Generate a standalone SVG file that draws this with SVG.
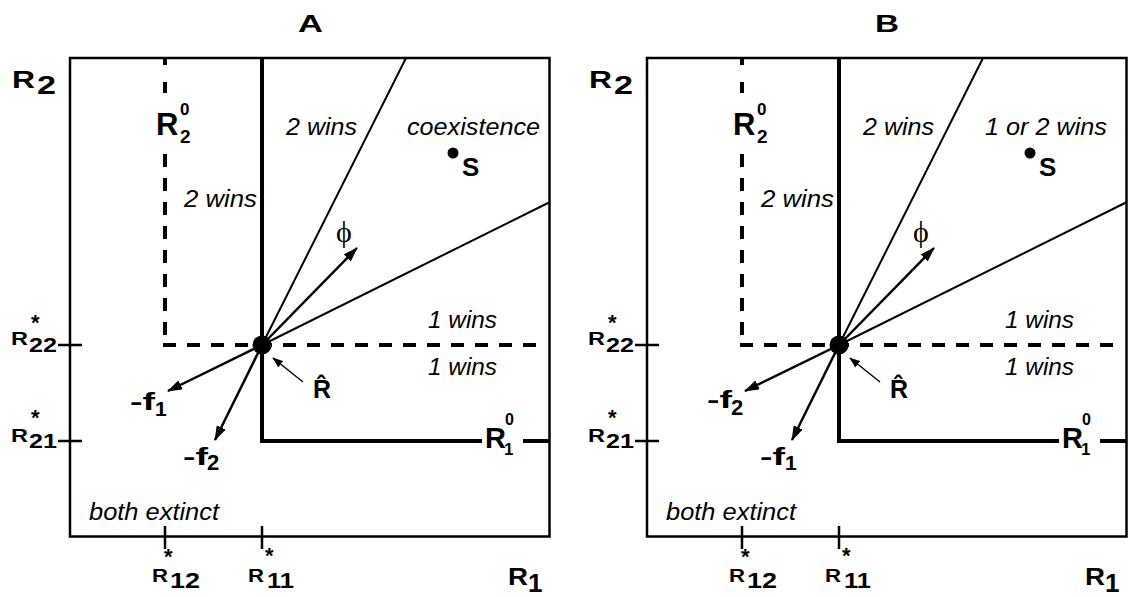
<svg xmlns="http://www.w3.org/2000/svg" width="1128" height="597" viewBox="0 0 1128 597">
<defs>
<marker id="ah" viewBox="0 0 15 10" refX="14" refY="5" markerWidth="15" markerHeight="10" markerUnits="userSpaceOnUse" orient="auto"><path d="M0,0 L15,5 L0,10 z" fill="#000"/></marker>
<marker id="ahs" viewBox="0 0 11 8" refX="10" refY="4" markerWidth="11" markerHeight="8" markerUnits="userSpaceOnUse" orient="auto"><path d="M0,0 L11,4 L0,8 z" fill="#000"/></marker>
<style>
.box{fill:none;stroke:#000;stroke-width:2.5}
.thick{fill:none;stroke:#000;stroke-width:4}
.dash{fill:none;stroke:#000;stroke-width:4;stroke-dasharray:13 11}
.thin{fill:none;stroke:#000;stroke-width:2}
.tick{fill:none;stroke:#000;stroke-width:2.5}
.arrow{fill:none;stroke:#000;stroke-width:2.5;marker-end:url(#ah)}
.arrows{fill:none;stroke:#000;stroke-width:1.5;marker-end:url(#ahs)}
.b{font-family:"Liberation Sans",Arial,sans-serif;font-weight:bold;fill:#000}
.i{font-family:"Liberation Sans",Arial,sans-serif;font-style:italic;font-size:24px;fill:#000}
.phi{font-family:"Liberation Serif","Times New Roman",serif;font-size:30px;fill:#000}
</style>
</defs>
<rect width="1128" height="597" fill="#fff"/>

<!-- Panel A -->
<g id="panelA">
  <g id="A-frame">
    <rect class="box" x="70" y="58" width="479.5" height="478.5"/>
    <path class="tick" d="M58 345H82M58 441H82M165 526V549M262 526V549"/>
  </g>
  <g id="A-connectors">
    <path class="thick" d="M165 58V65M165 82V93"/>
    <path class="dash" d="M165 154V345"/>
    <path class="dash" d="M163 345H546"/>
    <path class="thick" d="M262 58V441H482M523 441H550"/>
    <path class="thin" d="M262 345L406 58M262 345L550 202"/>
    <path class="arrow" d="M262 345L357 248"/>
    <path class="arrow" d="M262 345L168 391"/>
    <path class="arrow" d="M262 345L215 440"/>
    <path class="arrows" d="M303 382L273 358"/>
  </g>
  <g id="A-title"><text class="b" x="298" y="32" font-size="24" textLength="25" lengthAdjust="spacingAndGlyphs">A</text></g>
  <g id="A-R2axis"><text class="b" x="12" y="88" font-size="23" textLength="23" lengthAdjust="spacingAndGlyphs">R</text><text class="b" x="37" y="94" font-size="26" textLength="19" lengthAdjust="spacingAndGlyphs">2</text></g>
  <g id="A-R1axis"><text class="b" x="508" y="585" font-size="24" textLength="20" lengthAdjust="spacingAndGlyphs">R</text><text class="b" x="528" y="592" font-size="26">1</text></g>
  <g id="A-R20"><text class="b" x="156" y="135" font-size="31">R</text><text class="b" x="180" y="115" font-size="17">0</text><text class="b" x="180" y="143" font-size="19">2</text></g>
  <g id="A-R10"><text class="b" x="485" y="448" font-size="29">R</text><text class="b" x="505" y="425" font-size="16">0</text><text class="b" x="504" y="455" font-size="17">1</text></g>
  <g id="A-R22"><text class="b" x="11" y="345" font-size="18" textLength="17" lengthAdjust="spacingAndGlyphs">R</text><text class="b" x="29" y="352" font-size="21" textLength="28" lengthAdjust="spacingAndGlyphs">22</text><text class="b" x="31" y="330" font-size="22">*</text></g>
  <g id="A-R21"><text class="b" x="11" y="442" font-size="18" textLength="17" lengthAdjust="spacingAndGlyphs">R</text><text class="b" x="29" y="448" font-size="21" textLength="28" lengthAdjust="spacingAndGlyphs">21</text><text class="b" x="31" y="425" font-size="22">*</text></g>
  <g id="A-R12"><text class="b" x="152" y="582" font-size="19" textLength="16" lengthAdjust="spacingAndGlyphs">R</text><text class="b" x="170" y="588" font-size="22" textLength="30" lengthAdjust="spacingAndGlyphs">12</text><text class="b" x="164" y="564" font-size="22">*</text></g>
  <g id="A-R11"><text class="b" x="248" y="582" font-size="19" textLength="16" lengthAdjust="spacingAndGlyphs">R</text><text class="b" x="267" y="588" font-size="22" textLength="27" lengthAdjust="spacingAndGlyphs">11</text><text class="b" x="265" y="563" font-size="22">*</text></g>
  <g id="A-Rhat"><circle cx="262" cy="345" r="9.5" fill="#000"/><text class="b" x="313" y="398" font-size="25">R̂</text></g>
  <g id="A-S"><circle cx="453" cy="153" r="5.5" fill="#000"/><text class="b" x="462" y="176" font-size="26">S</text></g>
  <g id="A-phi"><text class="phi" x="336" y="242">ϕ</text></g>
  <g id="A-f1"><text class="b" x="130" y="410" font-size="24" textLength="25" lengthAdjust="spacingAndGlyphs">-f</text><text class="b" x="155" y="416" font-size="21">1</text></g>
  <g id="A-f2"><text class="b" x="183" y="465" font-size="24" textLength="25" lengthAdjust="spacingAndGlyphs">-f</text><text class="b" x="207" y="470" font-size="22">2</text></g>
  <g id="A-regions">
    <text class="i" x="286" y="135" textLength="71" lengthAdjust="spacingAndGlyphs">2 wins</text>
    <text class="i" x="407" y="135" textLength="133" lengthAdjust="spacingAndGlyphs">coexistence</text>
    <text class="i" x="184" y="207" textLength="73" lengthAdjust="spacingAndGlyphs">2 wins</text>
    <text class="i" x="428" y="328" textLength="69" lengthAdjust="spacingAndGlyphs">1 wins</text>
    <text class="i" x="428" y="375" textLength="69" lengthAdjust="spacingAndGlyphs">1 wins</text>
    <text class="i" x="89" y="520" textLength="130" lengthAdjust="spacingAndGlyphs">both extinct</text>
  </g>
</g>

<!-- Panel B -->
<g id="panelB" transform="translate(577,0)">
  <g id="B-frame">
    <rect class="box" x="70" y="58" width="479.5" height="478.5"/>
    <path class="tick" d="M58 345H82M58 441H82M165 526V549M262 526V549"/>
  </g>
  <g id="B-connectors">
    <path class="thick" d="M165 58V65M165 82V93"/>
    <path class="dash" d="M165 154V345"/>
    <path class="dash" d="M163 345H546"/>
    <path class="thick" d="M262 58V441H482M523 441H550"/>
    <path class="thin" d="M262 345L406 58M262 345L550 202"/>
    <path class="arrow" d="M262 345L357 248"/>
    <path class="arrow" d="M262 345L168 391"/>
    <path class="arrow" d="M262 345L215 440"/>
    <path class="arrows" d="M303 382L273 358"/>
  </g>
  <g id="B-title"><text class="b" x="298" y="32" font-size="24" textLength="24" lengthAdjust="spacingAndGlyphs">B</text></g>
  <g id="B-R2axis"><text class="b" x="12" y="88" font-size="23" textLength="23" lengthAdjust="spacingAndGlyphs">R</text><text class="b" x="37" y="94" font-size="26" textLength="19" lengthAdjust="spacingAndGlyphs">2</text></g>
  <g id="B-R1axis"><text class="b" x="508" y="585" font-size="24" textLength="20" lengthAdjust="spacingAndGlyphs">R</text><text class="b" x="528" y="592" font-size="26">1</text></g>
  <g id="B-R20"><text class="b" x="156" y="135" font-size="31">R</text><text class="b" x="180" y="115" font-size="17">0</text><text class="b" x="180" y="143" font-size="19">2</text></g>
  <g id="B-R10"><text class="b" x="485" y="448" font-size="29">R</text><text class="b" x="505" y="425" font-size="16">0</text><text class="b" x="504" y="455" font-size="17">1</text></g>
  <g id="B-R22"><text class="b" x="11" y="345" font-size="18" textLength="17" lengthAdjust="spacingAndGlyphs">R</text><text class="b" x="29" y="352" font-size="21" textLength="28" lengthAdjust="spacingAndGlyphs">22</text><text class="b" x="31" y="330" font-size="22">*</text></g>
  <g id="B-R21"><text class="b" x="11" y="442" font-size="18" textLength="17" lengthAdjust="spacingAndGlyphs">R</text><text class="b" x="29" y="448" font-size="21" textLength="28" lengthAdjust="spacingAndGlyphs">21</text><text class="b" x="31" y="425" font-size="22">*</text></g>
  <g id="B-R12"><text class="b" x="152" y="582" font-size="19" textLength="16" lengthAdjust="spacingAndGlyphs">R</text><text class="b" x="170" y="588" font-size="22" textLength="30" lengthAdjust="spacingAndGlyphs">12</text><text class="b" x="164" y="564" font-size="22">*</text></g>
  <g id="B-R11"><text class="b" x="248" y="582" font-size="19" textLength="16" lengthAdjust="spacingAndGlyphs">R</text><text class="b" x="267" y="588" font-size="22" textLength="27" lengthAdjust="spacingAndGlyphs">11</text><text class="b" x="265" y="563" font-size="22">*</text></g>
  <g id="B-Rhat"><circle cx="262" cy="345" r="9.5" fill="#000"/><text class="b" x="313" y="398" font-size="25">R̂</text></g>
  <g id="B-S"><circle cx="453" cy="153" r="5.5" fill="#000"/><text class="b" x="462" y="176" font-size="26">S</text></g>
  <g id="B-phi"><text class="phi" x="336" y="242">ϕ</text></g>
  <g id="B-f2"><text class="b" x="130" y="408" font-size="24" textLength="25" lengthAdjust="spacingAndGlyphs">-f</text><text class="b" x="154" y="415" font-size="22">2</text></g>
  <g id="B-f1"><text class="b" x="183" y="465" font-size="24" textLength="25" lengthAdjust="spacingAndGlyphs">-f</text><text class="b" x="208" y="470" font-size="21">1</text></g>
  <g id="B-regions">
    <text class="i" x="286" y="135" textLength="71" lengthAdjust="spacingAndGlyphs">2 wins</text>
    <text class="i" x="408" y="135" textLength="122" lengthAdjust="spacingAndGlyphs">1 or 2 wins</text>
    <text class="i" x="184" y="207" textLength="73" lengthAdjust="spacingAndGlyphs">2 wins</text>
    <text class="i" x="428" y="328" textLength="69" lengthAdjust="spacingAndGlyphs">1 wins</text>
    <text class="i" x="428" y="375" textLength="69" lengthAdjust="spacingAndGlyphs">1 wins</text>
    <text class="i" x="89" y="520" textLength="130" lengthAdjust="spacingAndGlyphs">both extinct</text>
  </g>
</g>
</svg>
